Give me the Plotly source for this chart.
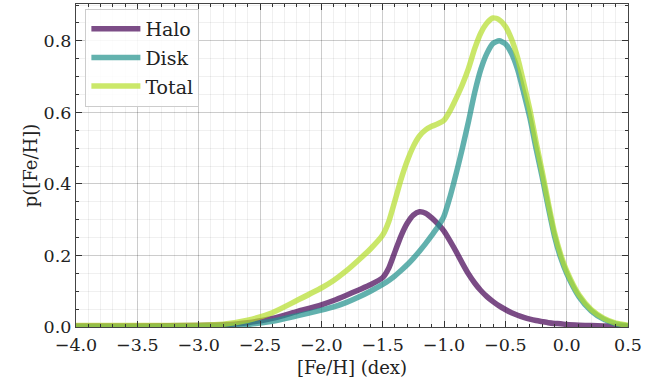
import plotly.graph_objects as go

# Metallicity grid [Fe/H] (dex)
feh = [-4.0, -3.5, -3.0, -2.8, -2.6, -2.4, -2.2, -2.0, -1.9, -1.8, -1.7, -1.6,
       -1.5, -1.45, -1.4, -1.35, -1.3, -1.25, -1.2, -1.15, -1.1, -1.05, -1.0,
       -0.95, -0.9, -0.85, -0.8, -0.75, -0.7, -0.65, -0.6, -0.55, -0.5, -0.45,
       -0.4, -0.35, -0.3, -0.25, -0.2, -0.15, -0.1, -0.05, 0.0, 0.1, 0.2, 0.3,
       0.4, 0.5]

p_halo = [0.003, 0.003, 0.004, 0.006, 0.012, 0.024, 0.043, 0.062, 0.074, 0.088,
          0.103, 0.118, 0.138, 0.165, 0.21, 0.255, 0.29, 0.313, 0.322, 0.318,
          0.305, 0.288, 0.268, 0.24, 0.21, 0.178, 0.148, 0.123, 0.102, 0.085,
          0.071, 0.059, 0.049, 0.04, 0.033, 0.027, 0.022, 0.018, 0.015, 0.012,
          0.01, 0.009, 0.007, 0.005, 0.004, 0.003, 0.002, 0.002]

p_disk = [0.0, 0.0, 0.001, 0.002, 0.007, 0.016, 0.031, 0.047, 0.056, 0.068,
          0.083, 0.1, 0.119, 0.13, 0.143, 0.158, 0.174, 0.192, 0.212, 0.233,
          0.256, 0.28, 0.31, 0.365, 0.43, 0.5, 0.575, 0.655, 0.72, 0.765,
          0.793, 0.8, 0.792, 0.765, 0.72, 0.655, 0.585, 0.5, 0.42, 0.335,
          0.255, 0.195, 0.15, 0.085, 0.045, 0.022, 0.009, 0.003]

p_total = [0.004, 0.004, 0.005, 0.008, 0.019, 0.04, 0.074, 0.109, 0.13, 0.156,
           0.186, 0.218, 0.257, 0.295, 0.353, 0.413, 0.464, 0.505, 0.534, 0.551,
           0.561, 0.568, 0.578, 0.605, 0.64, 0.678, 0.723, 0.778, 0.822, 0.85,
           0.864, 0.859, 0.841, 0.805, 0.753, 0.682, 0.607, 0.518, 0.435, 0.347,
           0.265, 0.204, 0.157, 0.09, 0.049, 0.025, 0.011, 0.005]

series = [
    ("Halo", p_halo, "rgb(68,1,84)"),
    ("Disk", p_disk, "rgb(33,145,140)"),
    ("Total", p_total, "rgb(181,222,43)"),
]

fig = go.Figure()
for name, vals, color in series:
    fig.add_trace(go.Scatter(
        x=feh, y=vals, name=name, mode="lines", legendgroup=name,
        line=dict(color=color, width=5.5, shape="spline", smoothing=0.6),
        opacity=0.7,
    ))

font_family = "DejaVu Serif"
text_color = "#222"
axis_common = dict(
    showline=True, linecolor="#444", linewidth=1.2, mirror="allticks",
    ticks="inside", ticklen=6, tickwidth=1, tickcolor="#333",
    showgrid=True, gridcolor="rgba(0,0,0,0.2)", gridwidth=1,
    zeroline=False, tickformat=".1f",
    tickfont=dict(family=font_family, size=17.5, color=text_color),
)

fig.update_xaxes(
    range=[-4.0, 0.5], dtick=0.5, tick0=-4.0, ticklabelstandoff=2,
    minor=dict(dtick=0.1, ticks="inside", ticklen=3, tickcolor="#333",
               showgrid=True, gridcolor="rgba(0,0,0,0.06)"),
    title=dict(text="[Fe/H] (dex)", font=dict(family=font_family, size=18, color=text_color),
               standoff=7),
    **axis_common,
)
fig.update_yaxes(
    range=[0.0, 0.903], dtick=0.2, tick0=0.0,
    minor=dict(dtick=0.05, ticks="inside", ticklen=3, tickcolor="#333",
               showgrid=True, gridcolor="rgba(0,0,0,0.06)"),
    title=dict(text="p([Fe/H])", font=dict(family=font_family, size=18, color=text_color),
               standoff=1),
    **axis_common,
)

fig.update_layout(
    width=665, height=388,
    margin=dict(l=76, r=37, t=4, b=61),
    paper_bgcolor="white", plot_bgcolor="white",
    font=dict(family=font_family, size=17.5, color=text_color),
    legend=dict(
        x=0.017, y=0.985, xanchor="left", yanchor="top",
        bgcolor="rgba(255,255,255,0.85)", bordercolor="#cccccc", borderwidth=1,
        font=dict(family=font_family, size=19, color=text_color),
        itemwidth=49, traceorder="grouped", tracegroupgap=1,
    ),
    showlegend=True,
)

fig.write_html("out.html")
